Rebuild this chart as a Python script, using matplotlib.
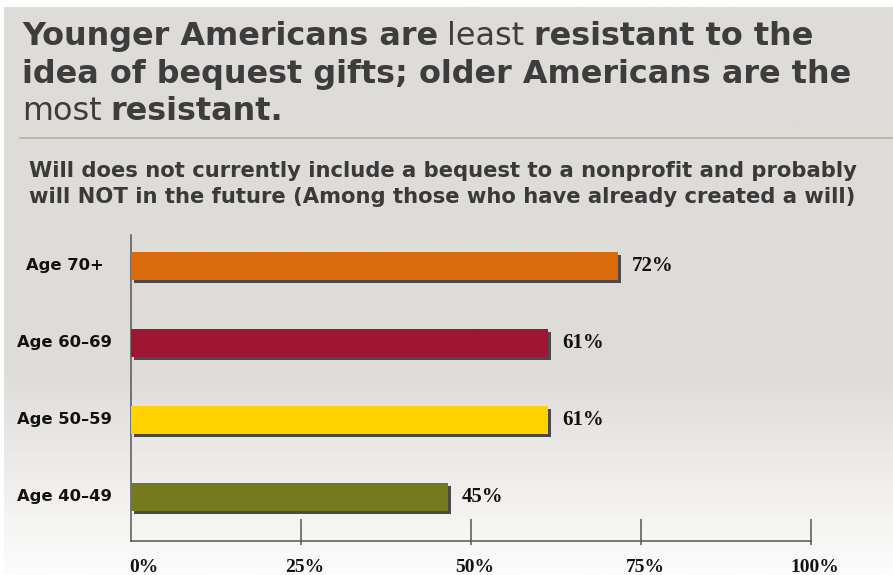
import numpy as np
import matplotlib
matplotlib.use('Agg')
import matplotlib.pyplot as plt
from matplotlib.colors import to_rgb
from matplotlib.transforms import blended_transform_factory

# 数据
categories = ['Age 40–49', 'Age 50–59', 'Age 60–69', 'Age 70+']
bar_lengths = [46.6, 61.3, 61.3, 71.6]      # bar ends as drawn in the picture
value_labels = ['45%', '61%', '61%', '72%']
bar_colors = ['#767a1f', '#ffd200', '#a01434', '#d96b0b']
tick_values = [0, 25, 50, 75, 100]
tick_labels = ['0%', '25%', '50%', '75%', '100%']

title_lines = [
    [('Younger Americans are', 'bold'), ('least', 'normal'), ('resistant to the', 'bold')],
    [('idea of bequest gifts; older Americans are the', 'bold')],
    [('most', 'normal'), ('resistant.', 'bold')],
]
subtitle_lines = [
    'Will does not currently include a bequest to a nonprofit and probably',
    'will NOT in the future (Among those who have already created a will)',
]

W, H = 893, 575
fig = plt.figure(figsize=(W / 100, H / 100), dpi=100, facecolor='white')


def fx(px):
    return px / W


def fy(py):
    return 1 - py / H


# 背景渐变
bg = fig.add_axes([fx(4), 0, 1 - fx(4), fy(7)], zorder=-10)
rows = np.linspace(7, H, 300)
top_c = np.array(to_rgb('#dedcd9'))
bot_c = np.array(to_rgb('#fdfdfd'))
t = np.clip((rows - 370) / (H - 370), 0, 1)
grad = top_c[None, :] * (1 - t[:, None]) + bot_c[None, :] * t[:, None]
bg.imshow(grad[:, None, :], aspect='auto', extent=[0, 1, 0, 1])
bg.set_axis_off()

# 标题（粗体/常规混排）
renderer = fig.canvas.get_renderer()
title_font = 'DejaVu Sans'
title_size = 22.95
baselines = [45, 82.5, 120]
for line, base in zip(title_lines, baselines):
    x = 22
    for txt, weight in line:
        t_obj = fig.text(fx(x), fy(base), txt, fontsize=title_size, fontweight=weight,
                         family=title_font, color='#3d3d3d', va='baseline', ha='left')
        bb = t_obj.get_window_extent(renderer)
        x += bb.width + title_size * 0.4

# 分隔线
fig.add_artist(plt.Line2D([fx(20), 1], [fy(137.5), fy(137.5)], color='#b5b29c', lw=1.2))

# 副标题
for txt, base in zip(subtitle_lines, [177, 203]):
    fig.text(fx(29), fy(base), txt, fontsize=15.25, fontweight='bold', family='DejaVu Sans',
             color='#3a3a3a', va='baseline', ha='left')

# 主图
ax = fig.add_axes([fx(131), 1 - 541 / H, 680 / W, 306 / H])
ax.patch.set_alpha(0)
ypos = np.arange(len(categories))
bar_h = 0.364
ax.barh(ypos - 0.04, bar_lengths, height=bar_h, left=0.45, color='#4a4a4a', zorder=2)
ax.barh(ypos, bar_lengths, height=bar_h, color=bar_colors, zorder=3)

for y, v, lab in zip(ypos, bar_lengths, value_labels):
    ax.text(v + 2.1, y, lab, va='center', ha='left', fontsize=15, fontweight='bold',
            family='Liberation Serif', color='#111111')

ax.set_xlim(0, 100)
ax.set_ylim(-0.571, 3.40)
for s in ['top', 'right']:
    ax.spines[s].set_visible(False)
for s in ['left', 'bottom']:
    ax.spines[s].set_color('#555555')
    ax.spines[s].set_linewidth(1.1)

ax.set_xticks([])
ax.set_yticks([])

# 刻度线（穿过底轴）
trans = ax.get_xaxis_transform()
ax.vlines(tick_values[1:], -4 / 306, 22 / 306, transform=trans, color='#555555', lw=1.1, clip_on=False)

# 刻度标签
for v, lab in zip(tick_values, tick_labels):
    if v == 0:
        ax.text(v - 0.3, -26 / 306, lab, transform=trans, ha='left', va='center',
                fontsize=14, fontweight='bold', family='Liberation Serif', color='#111111')
    else:
        ax.text(v + 0.6, -26 / 306, lab, transform=trans, ha='center', va='center',
                fontsize=14, fontweight='bold', family='Liberation Serif', color='#111111')

# 类别标签
lab_trans = blended_transform_factory(fig.transFigure, ax.transData)
for y, lab in zip(ypos, categories):
    fig.text(fx(64.5), y, lab, transform=lab_trans, ha='center', va='center',
             fontsize=11.8, fontweight='bold', family='DejaVu Sans', color='#111111')

fig.savefig('out.png', dpi=100, facecolor='white')
